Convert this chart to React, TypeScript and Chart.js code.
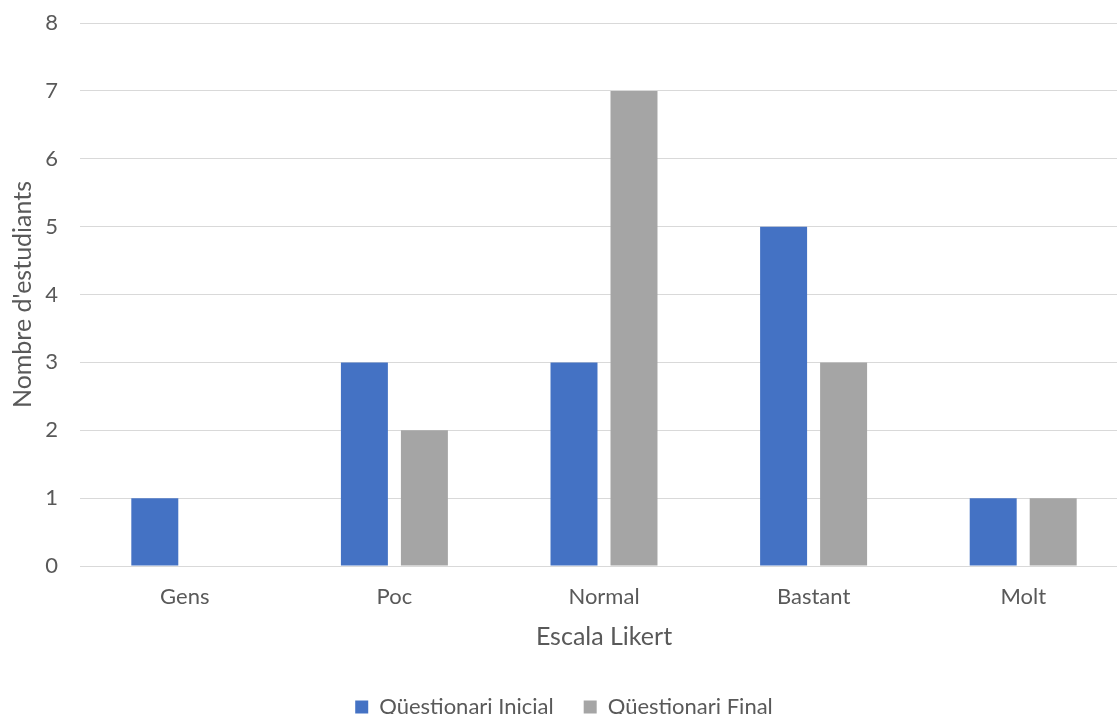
import React, { useEffect, useRef } from "react";
import { Chart, registerables } from "chart.js";

Chart.register(...registerables);

const categories = ["Gens", "Poc", "Normal", "Bastant", "Molt"];
const inicialValues = [1, 3, 3, 5, 1];
const finalValues = [0, 2, 7, 3, 1];
const seriesNames = ["Qüestionari Inicial", "Qüestionari Final"];
const xTitle = "Escala Likert";
const yTitle = "Nombre d'estudiants";

const FONT = "Lato, 'Open Sans', sans-serif";
const TEXT = "#595959";
const W = 1138;
const H = 728;

export default function App() {
  const ref = useRef<HTMLCanvasElement | null>(null);

  useEffect(() => {
    document.body.style.margin = "0";
    document.body.style.overflow = "hidden";
    const canvas = ref.current;
    if (!canvas) return;
    const chart = new Chart(canvas, {
      type: "bar",
      data: {
        labels: categories,
        datasets: [
          {
            label: seriesNames[0],
            data: inicialValues,
            backgroundColor: "#4472C4",
            barPercentage: 0.783,
            categoryPercentage: 0.5725,
          },
          {
            label: seriesNames[1],
            data: finalValues,
            backgroundColor: "#A5A5A5",
            barPercentage: 0.783,
            categoryPercentage: 0.5725,
          },
        ],
      },
      options: {
        responsive: false,
        animation: false,
        devicePixelRatio: 1,
        layout: { padding: { top: 23, right: 10, left: 0, bottom: 0 } },
        plugins: {
          tooltip: { enabled: false },
          legend: {
            position: "bottom",
            labels: {
              boxWidth: 13,
              boxHeight: 13,
              padding: 30,
              color: TEXT,
              font: { family: FONT, size: 22 },
            },
          },
        },
        scales: {
          x: {
            grid: { display: false, drawTicks: false },
            border: { display: true, color: "#D9D9D9" },
            ticks: { color: TEXT, font: { family: FONT, size: 22 }, padding: 18 },
            title: {
              display: true,
              text: xTitle,
              color: TEXT,
              font: { family: FONT, size: 25 },
              padding: { top: 0, bottom: 14 },
            },
            afterFit: (scale: any) => {
              scale.height = 100;
              scale.paddingLeft = 0;
              scale.paddingRight = 0;
            },
          },
          y: {
            min: 0,
            max: 8,
            grid: { color: "#D9D9D9", lineWidth: 1, drawTicks: false },
            border: { display: false },
            ticks: { stepSize: 1, color: TEXT, font: { family: FONT, size: 22 }, padding: 22 },
            title: {
              display: true,
              text: yTitle,
              color: TEXT,
              font: { family: FONT, size: 25 },
              padding: { top: 8, bottom: 0 },
            },
            afterFit: (scale: any) => {
              scale.width = 80;
              scale.paddingTop = 0;
              scale.paddingBottom = 0;
            },
          },
        },
      },
    });
    return () => chart.destroy();
  }, []);

  return (
    <div style={{ width: W, height: H }}>
      <canvas ref={ref} width={W} height={H} style={{ width: W, height: H, display: "block" }} />
    </div>
  );
}
